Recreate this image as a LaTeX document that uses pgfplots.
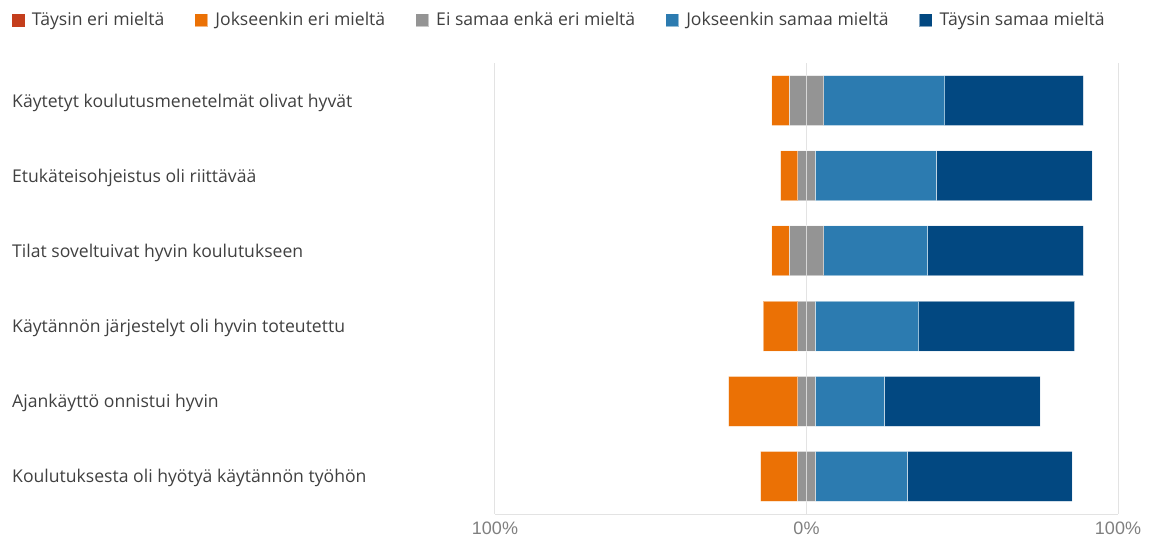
\documentclass[border=0pt]{standalone}
\usepackage{fontspec}
\setmainfont{Open Sans}
\newfontfamily\tickfont{Liberation Sans}
\usepackage{pgfplots}
\usepackage{pgfplotstable}
\pgfplotsset{compat=1.18}
\definecolor{cRed}{HTML}{C43E1C}
\definecolor{cOrange}{HTML}{EB7105}
\definecolor{cGray}{HTML}{949494}
\definecolor{cLBlue}{HTML}{2C7BB0}
\definecolor{cDBlue}{HTML}{024881}
\definecolor{gridc}{HTML}{E3E3E3}
\definecolor{txt}{HTML}{404040}
\definecolor{tickc}{HTML}{7F7F7F}

% percentages; off = 100 - (red + orange + neutral/2)  (axis runs 0..200, 100 = 0%)
\pgfplotstableread{
y off red orange neuL neuR lb db
0 88.89 0 5.56 5.555 5.555 38.89 44.44
1 91.66 0 5.56 2.78 2.78 38.89 50.00
2 88.89 0 5.56 5.555 5.555 33.33 50.00
3 86.11 0 11.11 2.78 2.78 33.33 50.00
4 75.00 0 22.22 2.78 2.78 22.22 50.00
5 85.30 0 11.76 2.94 2.94 29.41 52.94
}\datatable

\begin{document}
\begin{tikzpicture}[x=1pt,y=1pt]
\path[use as bounding box] (0,0) rectangle (1157,541);
\begin{axis}[
 at={(495pt,27pt)}, anchor=south west,
 scale only axis, width=623pt, height=451pt,
 xmin=0, xmax=200, ymin=-0.5, ymax=5.5, y dir=reverse,
 xbar stacked, bar width=50pt,
 axis x line=bottom, axis y line=left,
 y axis line style={draw=none},
 x axis line style={draw=gridc, line width=1pt, -},
 xtick={0,100,200}, xticklabels={100\%,0\%,100\%},
 xmajorgrids, grid style={draw=gridc, line width=1pt},
 major tick length=0pt,
 ytick={0,...,5},
 yticklabels={Käytetyt koulutusmenetelmät olivat hyvät, Etukäteisohjeistus oli riittävää, Tilat soveltuivat hyvin koulutukseen, Käytännön järjestelyt oli hyvin toteutettu, Ajankäyttö onnistui hyvin, Koulutuksesta oli hyötyä käytännön työhön},
 yticklabel style={anchor=west, xshift=-483pt, yshift=-2pt, font=\fontsize{17.6}{20}\selectfont, text=txt, inner xsep=0pt},
 xticklabel style={anchor=base, yshift=-20pt, font=\tickfont\fontsize{18}{20}\selectfont, text=tickc},
 legend columns=5,
 legend style={draw=none, fill=none, inner sep=0pt, outer sep=0pt, at={(-0.7753,1.0953)}, anchor=west,
   font=\fontsize{17.6}{20}\selectfont, text=txt, nodes={inner sep=0pt},
   /tikz/every odd column/.append style={column sep=7pt},
   /tikz/every even column/.append style={column sep=30pt}},
 legend image code/.code={\fill[#1] (0pt,-6.5pt) rectangle (13pt,6.5pt);},
 every axis plot/.append style={draw=white, draw opacity=0.5, line width=1pt},
]
\addplot[fill=none, draw=none, forget plot] table[x=off, y=y] {\datatable};
\addplot[fill=cRed, draw=none] table[x=red, y=y] {\datatable};
\addlegendentry{Täysin eri mieltä}
\addplot[fill=cOrange] table[x=orange, y=y] {\datatable};
\addlegendentry{Jokseenkin eri mieltä}
\addplot[fill=cGray] table[x=neuL, y=y] {\datatable};
\addlegendentry{Ei samaa enkä eri mieltä}
\addplot[fill=cGray, forget plot] table[x=neuR, y=y] {\datatable};
\addplot[fill=cLBlue] table[x=lb, y=y] {\datatable};
\addlegendentry{Jokseenkin samaa mieltä}
\addplot[fill=cDBlue] table[x=db, y=y] {\datatable};
\addlegendentry{Täysin samaa mieltä}
\end{axis}
\end{tikzpicture}
\end{document}
